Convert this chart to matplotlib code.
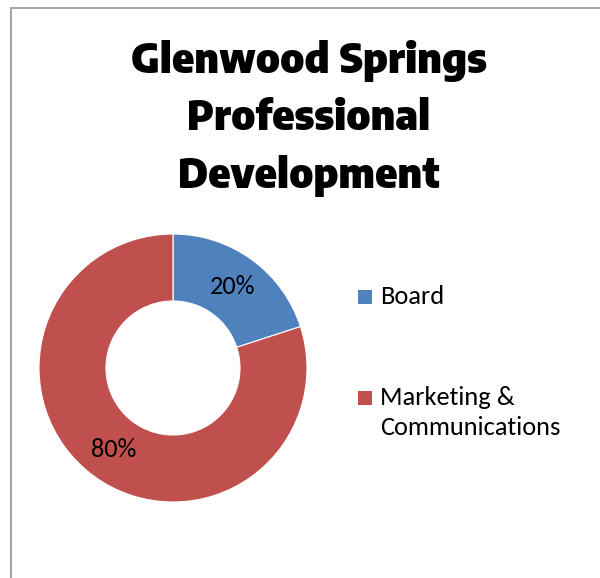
import matplotlib.pyplot as plt
from matplotlib.patches import Rectangle

# data
labels = ['Board', 'Marketing &\nCommunications']
shares = [20, 80]
colors = ['#4F81BD', '#C0504D']
title_lines = ['Glenwood Springs', 'Professional', 'Development']

W, H = 600, 578
body_font = ['Carlito', 'Open Sans', 'DejaVu Sans']
head_font = ['Encode Sans Semi Condensed', 'Encode Sans Condensed', 'Anton', 'DejaVu Sans']

fig = plt.figure(figsize=(W / 100, H / 100), dpi=100)
fig.patch.set_facecolor('white')

# outer chart frame, runs off the right and bottom edge
fig.patches.append(Rectangle((10.5 / W, -0.1), 1.2, 1 - 8.5 / H + 0.1,
                             transform=fig.transFigure, fill=False,
                             edgecolor='#a6a6a6', linewidth=1.5))

# title, one line at a time
for i, line in enumerate(title_lines):
    fig.text(309 / W, 1 - (73 + 57.5 * i) / H, line, ha='center', va='baseline',
             family=head_font, weight=900, fontsize=30)

# donut
cx, cy, r = 173, 368, 134
ax = fig.add_axes([(cx - r) / W, (H - cy - r) / H, 2 * r / W, 2 * r / H])
wedges, _, pcts = ax.pie(shares, colors=colors, startangle=90, counterclock=False,
                         radius=1, autopct='%1.0f%%', pctdistance=0.75,
                         wedgeprops=dict(width=0.5, edgecolor='white', linewidth=0.8),
                         textprops=dict(family=body_font, fontsize=19))
ax.set_xlim(-1, 1)
ax.set_ylim(-1, 1)
ax.set_aspect('equal')
ax.axis('off')

# legend: square key next to the first line of each label
key_y = [304, 405]
pitch = 30
for lab, col, y in zip(labels, colors, key_y):
    fig.patches.append(Rectangle((358 / W, 1 - y / H), 14 / W, 14 / H,
                                 transform=fig.transFigure, facecolor=col, edgecolor='none'))
    last = y + pitch * lab.count('\n')
    fig.text(380 / W, 1 - last / H, lab, ha='left', va='baseline',
             family=body_font, fontsize=19, linespacing=1.36)

fig.savefig('out.png', dpi=100)
